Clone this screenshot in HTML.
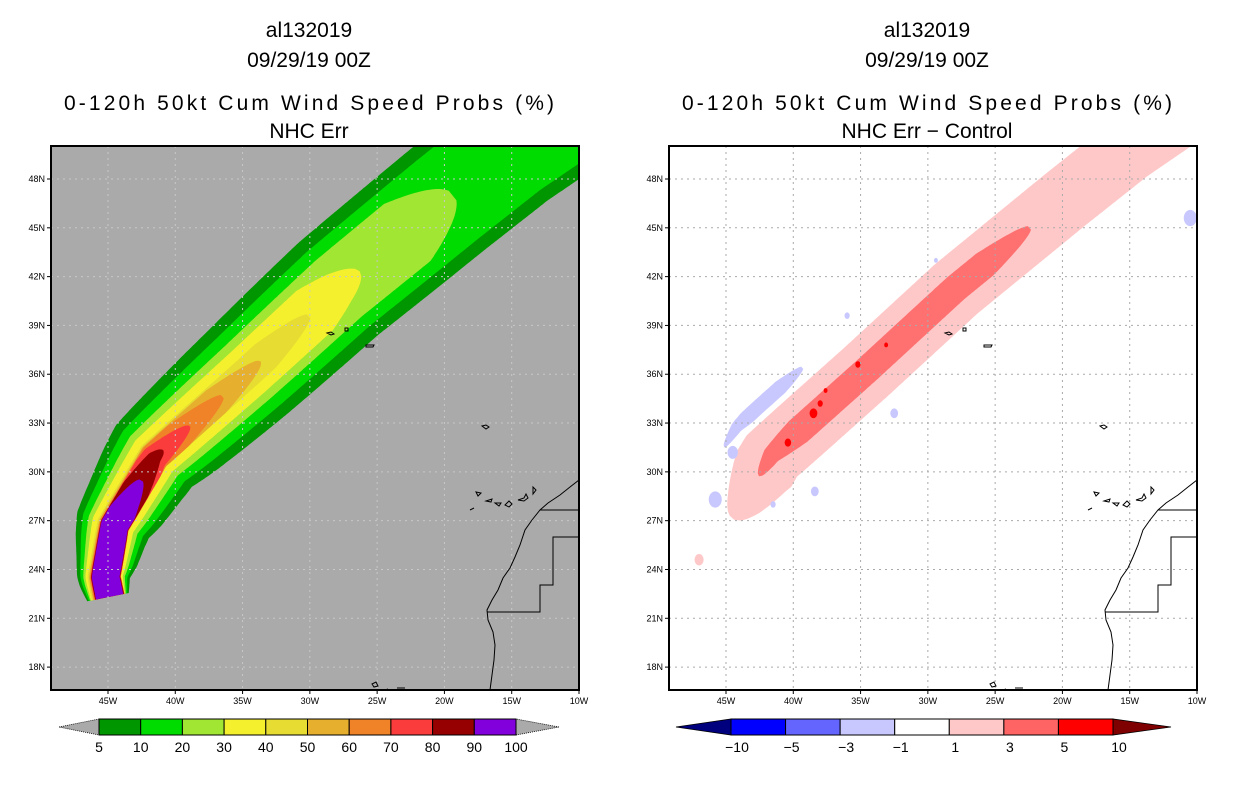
<!DOCTYPE html>
<html><head><meta charset="utf-8"><style>
body{margin:0;background:#fff;}
svg{display:block;font-family:"Liberation Sans",sans-serif;}
.t{font-size:21px;fill:#000;text-anchor:middle;}
.tk{font-size:9px;fill:#000;}
.cb{font-size:14px;fill:#000;text-anchor:middle;}
</style></head><body>
<svg id="s" width="1236" height="800" viewBox="0 0 1236 800">
<defs>
<clipPath id="clipL"><rect x="51" y="146" width="528" height="544"/></clipPath>
<clipPath id="clipR"><rect x="669" y="146" width="528" height="544"/></clipPath>
</defs>
<g>
<text class="t" x="309" y="37">al132019</text>
<text class="t" x="309" y="67">09/29/19 00Z</text>
<text class="t" x="309" y="110" textLength="490">0-120h 50kt Cum Wind Speed Probs (%)</text>
<text class="t" x="309" y="138">NHC Err</text>
</g>
<g>
<text class="t" x="927" y="37">al132019</text>
<text class="t" x="927" y="67">09/29/19 00Z</text>
<text class="t" x="927" y="110" textLength="490">0-120h 50kt Cum Wind Speed Probs (%)</text>
<text class="t" x="927" y="138">NHC Err − Control</text>
</g>
<rect x="51" y="146" width="528" height="544" fill="#aaaaaa"/>
<rect x="669" y="146" width="528" height="544" fill="#ffffff"/>
<g id="fillL" clip-path="url(#clipL)"></g>
<g id="fillR" clip-path="url(#clipR)"></g>
<g id="gridL"></g>
<g id="gridR"></g>
<g id="coastL"></g>
<g id="coastR"></g>
<rect x="51" y="146" width="528" height="544" fill="none" stroke="#000" stroke-width="2"/>
<rect x="669" y="146" width="528" height="544" fill="none" stroke="#000" stroke-width="2"/>
<g id="axesL"></g>
<g id="axesR"></g>
<g id="cbL"></g>
<g id="cbR"></g>
</svg>
<script>
// ---- data ----
const trackLon=[-45.0,-45.3,-44.63,-41.6,-34.6,-27.9,-19.81,-15.13,-11.4,-7];
const trackLat=[22.3,23.54,26.73,30.97,36.14,41.24,46.71,49.78,51.9,54.5];
const probLevels=[5,10,20,30,40,50,60,70,80,90];
const probColors=['#009600','#00dc00','#a0e632','#f5f02d','#e6dc32','#e6af2d','#f08228','#fa3c3c','#960000','#8200dc'];
const probEndLon=[-5,-5,-19.3,-26.3,-30.0,-33.7,-36.5,-39.0,-41.0,-42.6];
const probHalfW=[3.9,3.1,2.3,1.7,0.95,0.9,0.88,0.87,0.86,0.85];
const probBaseW=[1.3,1.2,1.12,1.06,1.02,0.98,0.95,0.93,0.9,0.85];
const probShift=[0,0,0,0,0,-0.05,-0.08,-0.1,-0.1,-0.1];
const diffLevels=[1,3,-1];
const diffColors=['#ffc8c8','#ff7070','#c8c8ff'];
const diffStartLon=[-44.4,-42.5,-42.3];
const diffEndLon=[-6,-22.3,-37.0];
const diffShift=[0,0.05,2.8];
const diffHalfW=[2.0,0.85,0.45];
const spotLon=[-40.4,-38.5,-38.0,-35.2,-37.6,-33.1,-44.5,-45.8,-38.4,-32.5,-10.5,-47.0,-41.5,-36.0,-29.4];
const spotLat=[31.8,33.6,34.2,36.6,35.0,37.8,31.2,28.3,28.8,33.6,45.6,24.6,28.0,39.6,43.0];
const spotLevel=[5,5,5,5,5,5,-1,-1,-1,-1,-1,1,-1,-1,-1];
const spotR=[0.25,0.3,0.2,0.2,0.15,0.15,0.4,0.5,0.3,0.3,0.5,0.35,0.2,0.2,0.15];
const lonTicks=[-45,-40,-35,-30,-25,-20,-15,-10];
const lonLabels=['45W','40W','35W','30W','25W','20W','15W','10W'];
const latTicks=[48,45,42,39,36,33,30,27,24,21,18];
const latLabels=['48N','45N','42N','39N','36N','33N','30N','27N','24N','21N','18N'];
const cbLeftLabels=['5','10','20','30','40','50','60','70','80','90','100'];
const cbRightColors=['#0000ff','#6464ff','#c8c8ff','#ffffff','#ffc8c8','#ff6464','#ff0000'];
const cbRightLabels=['−10','−5','−3','−1','1','3','5','10'];
// ---- axes ----
const NS='http://www.w3.org/2000/svg';
const KX=13.457, KY=16.27;
function X(lon,off){return 108+off+(lon+45)*KX;}
function Y(lat){return 179+(48-lat)*KY;}
function mk(tag,attrs,parent){const e=document.createElementNS(NS,tag);for(const k in attrs)e.setAttribute(k,attrs[k]);parent.appendChild(e);return e;}
function G(id){return document.getElementById(id);}

function trackPx(off){
  const pts=trackLon.map((l,i)=>[X(l,off),Y(trackLat[i])]);
  const cum=[0];for(let i=1;i<pts.length;i++)cum.push(cum[i-1]+Math.hypot(pts[i][0]-pts[i-1][0],pts[i][1]-pts[i-1][1]));
  return {pts,cum};
}
function at(T,s){
  const {pts,cum}=T;let i=1;while(i<cum.length-1&&cum[i]<s)i++;
  const a=pts[i-1],b=pts[i];const L=cum[i]-cum[i-1];const f=Math.max(0,Math.min(1,(s-cum[i-1])/L));
  let dx=(b[0]-a[0])/L,dy=(b[1]-a[1])/L;
  if(i+1<pts.length&&f>0.7){const c=pts[i+1];const L2=Math.hypot(c[0]-b[0],c[1]-b[1]);const w=(f-0.7)/0.6;
    dx=dx*(1-w)+w*(c[0]-b[0])/L2;dy=dy*(1-w)+w*(c[1]-b[1])/L2;}
  if(i>1&&f<0.3){const z=pts[i-2];const L0=Math.hypot(a[0]-z[0],a[1]-z[1]);const w=(0.3-f)/0.6;
    dx=dx*(1-w)+w*(a[0]-z[0])/L0;dy=dy*(1-w)+w*(a[1]-z[1])/L0;}
  const n=Math.hypot(dx,dy);dx/=n;dy/=n;
  return [a[0]+(b[0]-a[0])*f,a[1]+(b[1]-a[1])*f,dy,-dx];
}
function sAtLon(T,lon){
  const {cum}=T;
  for(let i=2;i<trackLon.length;i++){if(lon<=trackLon[i]){const f=(lon-trackLon[i-1])/(trackLon[i]-trackLon[i-1]);return cum[i-1]+Math.max(0,f)*(cum[i]-cum[i-1]);}}
  return cum[cum.length-1];
}
function ribbon(T,s0,s1,W,shift,wfun,taperStart){
  const Lp=[],Rp=[];const tl=Math.min(60,0.3*(s1-s0));
  for(let s=s0;s<=s1+0.01;s+=2){
    const p=at(T,s);let hw=wfun(s-s0,W);
    let fe=Math.sqrt(Math.max(0,Math.min(1,(s1-s)/tl)));hw*=fe;
    if(taperStart)hw*=Math.sqrt(Math.max(0,Math.min(1,(s-s0)/tl)));
    const a=(shift+hw)*KY,b=(shift-hw)*KY;
    Lp.push([p[0]+p[2]*a,p[1]+p[3]*a]);Rp.push([p[0]+p[2]*b,p[1]+p[3]*b]);
  }
  return Lp.concat(Rp.reverse()).map(q=>q[0].toFixed(1)+','+q[1].toFixed(1)).join(' ');
}
// left probability fills
const TL=trackPx(0);
probLevels.forEach((lv,i)=>{
  const s1=sAtLon(TL,probEndLon[i]);
  const wb=probBaseW[i];
  const pts=ribbon(TL,0,s1,probHalfW[i],probShift[i],(s,W)=>W-(W-wb)*Math.exp(-s/144),false);
  const el=mk('polygon',{points:pts,fill:probColors[i]},G('fillL'));
  
  
});
// right difference fills
const TR=trackPx(618);
diffLevels.forEach((lv,i)=>{
  const s0=sAtLon(TR,diffStartLon[i]),s1=sAtLon(TR,diffEndLon[i]);
  const pts=ribbon(TR,s0,s1,diffHalfW[i],diffShift[i],(s,W)=>W,true);
  const el=mk('polygon',{points:pts,fill:diffColors[i]},G('fillR'));
  
  
});
spotLon.forEach((l,i)=>{
  const c=spotLevel[i]===5?'#ff0000':spotLevel[i]===1?'#ffc8c8':'#c8c8ff';
  const r=spotR[i]*KY;
  const el=mk('ellipse',{cx:X(l,618),cy:Y(spotLat[i]),rx:r*0.8,ry:r,fill:c},G('fillR'));
  
  
});
// grid + axes
[[0,'gridL','axesL'],[618,'gridR','axesR']].forEach(([off,g,a])=>{
  const col=off?'#aaaaaa':'#c8c8c8';
  lonTicks.forEach((l,i)=>{
    const x=X(l,off);
    if(i<lonTicks.length-1){const gl=mk('line',{x1:x,x2:x,y1:146,y2:690,stroke:col,'stroke-dasharray':'2,4','stroke-width':1},G(g));}
    mk('line',{x1:x,x2:x,y1:690,y2:694,stroke:'#000'},G(a));
    const t=mk('text',{class:'tk',x:x,y:704,'text-anchor':'middle'},G(a));t.textContent=lonLabels[i];
    
  });
  latTicks.forEach((l,i)=>{
    const y=Y(l);
    const gl=mk('line',{x1:51+off,x2:579+off,y1:y,y2:y,stroke:col,'stroke-dasharray':'2,4','stroke-width':1},G(g));
    
    mk('line',{x1:47+off,x2:51+off,y1:y,y2:y,stroke:'#000'},G(a));
    const t=mk('text',{class:'tk',x:45+off,y:y+3,'text-anchor':'end'},G(a));t.textContent=latLabels[i];
    
  });
});
// coastlines (basemap)
const coast='M579,480 L570,487 L560,495 L548,503 L540,510 L532,520 L525,530 L520,545 L515,557 L510,568 L503,578 L498,590 L492,600 L487,610 L488,620 L493,632 L495,645 L494,660 L492,675 L490,690 M540,510 L579,510 M579,537 L553,537 L553,585 L540,585 L540,612 L487,612 M470,510 l4,-2 M476,492 l2,4 l3,-3 z M486,501 l6,-2 l-1,3 z M495,503 l6,0 l-2,3 z M505,505 l4,-4 l3,3 l-3,3 z M518,500 l6,-2 l2,-4 l2,4 l-4,3 z M533,494 l0,-7 l3,3 z M327,333 l4,-1 l3,2 l-3,1 z M345,328 l3,0 l0,3 l-3,0 z M366,345 l8,0 l-1,2 l-7,0 z M482,426 l4,-1 l3,2 l-3,2 z M372,684 l4,-2 l2,4 l-4,1 z M397,688 l8,0 M385,690 l3,-1';
[0,618].forEach((off,i)=>{
  const p=mk('path',{d:coast,fill:'none',stroke:'#000','stroke-width':1,transform:'translate('+off+',0)'},G(i?'coastR':'coastL'));
  
  
});
// left colorbar
(function(){
  const g=G('cbL');const x0=99,x1=516,y0=719,h=16,w=(x1-x0)/probColors.length;
  const lt=mk('polygon',{points:`59,${y0+h/2} ${x0},${y0} ${x0},${y0+h}`,fill:'#aaaaaa',stroke:'#000','stroke-dasharray':'1,1','stroke-width':0.8},g);
  
  const rt=mk('polygon',{points:`559,${y0+h/2} ${x1},${y0} ${x1},${y0+h}`,fill:'#aaaaaa',stroke:'#000','stroke-dasharray':'1,1','stroke-width':0.8},g);
  
  probColors.forEach((c,i)=>{const r=mk('rect',{x:x0+i*w,y:y0,width:w,height:h,fill:c,stroke:'#000','stroke-width':1},g);
    });
  cbLeftLabels.forEach((s,i)=>{const t=mk('text',{class:'cb',x:x0+i*w,y:752},g);t.textContent=s;
    });
})();
// right colorbar
(function(){
  const g=G('cbR');const x0=731,x1=1113,y0=719,h=16,w=(x1-x0)/cbRightColors.length;
  const lt=mk('polygon',{points:`676,${y0+h/2} ${x0},${y0} ${x0},${y0+h}`,fill:'#00007f',stroke:'#000','stroke-width':0.8},g);
  
  const rt=mk('polygon',{points:`1171,${y0+h/2} ${x1},${y0} ${x1},${y0+h}`,fill:'#7f0000',stroke:'#000','stroke-width':0.8},g);
  
  cbRightColors.forEach((c,i)=>{const r=mk('rect',{x:x0+i*w,y:y0,width:w,height:h,fill:c,stroke:'#000','stroke-width':1},g);
    });
  cbRightLabels.forEach((s,i)=>{const t=mk('text',{class:'cb',x:x0+i*w+6,y:752},g);t.textContent=s;
    });
})();
</script>
</body></html>
